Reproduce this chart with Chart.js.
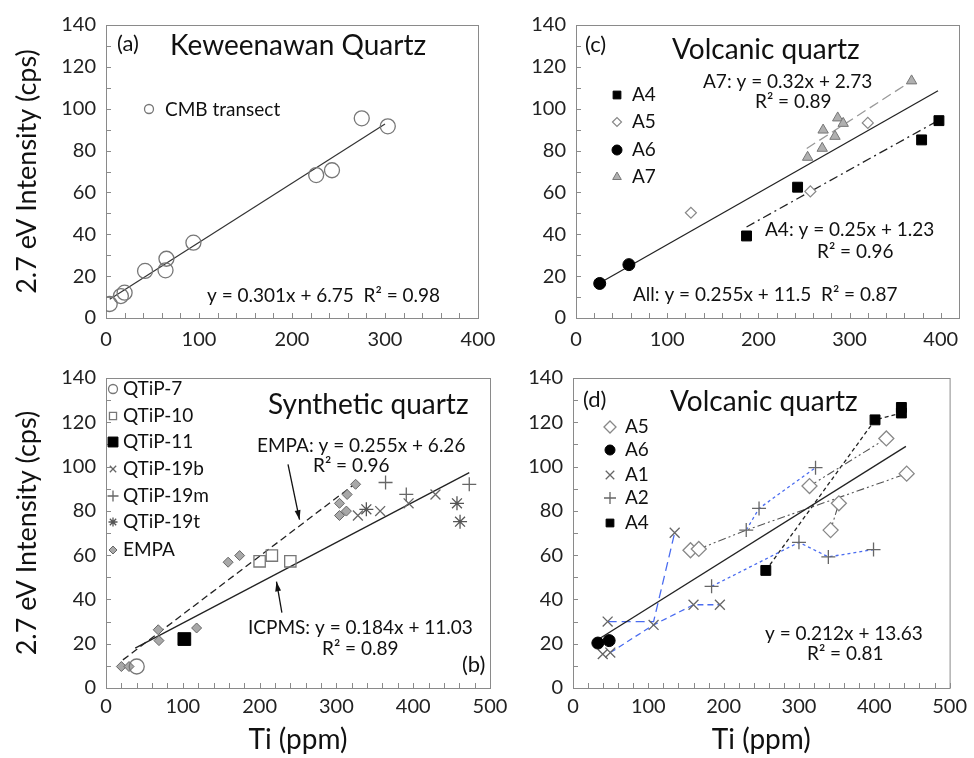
<!DOCTYPE html>
<html>
<head>
<meta charset="UTF-8">
<title>2.7 eV Intensity vs Ti</title>
<script src="https://cdn.jsdelivr.net/npm/chart.js"></script>
<style>
  body { margin: 0; background: #fff; width: 974px; height: 758px; overflow: hidden; position: relative; }
  canvas { position: absolute; left: 0; top: 0; }
</style>
</head>
<body>
<canvas id="pa" width="974" height="758"></canvas>
<canvas id="pc" width="974" height="758"></canvas>
<canvas id="pb" width="974" height="758"></canvas>
<canvas id="pd" width="974" height="758"></canvas>
<script>
// ---- (a) Keweenawan quartz
const cmbTi  = [4, 16, 20, 42, 64, 65, 94, 226, 243, 275, 303];
const cmbInt = [6.7, 10.5, 12.1, 22.5, 22.8, 28.3, 36.0, 68.3, 70.6, 95.4, 91.6];
const fitA_Ti  = [4, 300];
const fitA_Int = [9.0, 92.7];

// ---- (c) volcanic quartz
const cA4Ti = [187, 243, 379, 398],  cA4Int = [39.2, 62.5, 85.1, 94.3];
const cA5Ti = [126, 257, 320],       cA5Int = [50.3, 60.5, 93.2];
const cA6Ti = [26, 58],              cA6Int = [16.5, 25.5];
const cA7Ti = [254, 270, 271, 284, 287, 293, 368];
const cA7Int = [76.8, 81.1, 89.8, 86.8, 95.6, 93.0, 113.3];
const fitAllTi = [26, 397], fitAllInt = [16.7, 108.6];
const fitC4Ti = [187, 397],  fitC4Int = [43.5, 94.3];
const fitC7Ti = [253, 368],  fitC7Int = [81.0, 113.3];

// ---- (b) synthetic quartz
const q7Ti = [40],               q7Int = [9.7];
const q10Ti = [200, 216, 240],   q10Int = [57.2, 59.8, 57.2];
const q11Ti = [102],             q11Int = [22.1];
const q19bTi = [328, 357, 394, 429], q19bInt = [77.9, 79.9, 83.4, 87.4];
const q19mTi = [364, 391, 473],  q19mInt = [92.8, 87.4, 92.0];
const q19tTi = [339, 457, 461],  q19tInt = [80.7, 83.4, 75.1];
const empaTi  = [20, 30, 68, 69, 118, 159, 174, 304, 313, 304, 314, 325];
const empaInt = [9.7, 9.7, 26.3, 21.4, 27.1, 56.8, 59.8, 77.9, 79.9, 83.4, 87.4, 92.0];
const fitEmpaTi = [22, 326],  fitEmpaInt = [12.7, 92.7];
const fitIcpTi  = [38, 473],  fitIcpInt  = [18.0, 97.3];

// ---- (d) volcanic quartz
const dA5Ti = [156, 167, 314, 342, 353, 416, 443];
const dA5Int = [62.2, 62.8, 91.2, 71.3, 83.4, 112.7, 96.8];
const dA6Ti = [33, 48],   dA6Int = [20.3, 21.4];
const dA1Ti = [39.5, 49.5, 46, 107, 135, 160, 195];
const dA1Int = [15.3, 16.0, 30.0, 28.5, 70.1, 37.6, 37.6];
const dA2Ti = [184, 230, 247, 322, 300, 339, 399];
const dA2Int = [45.9, 71.3, 81.1, 99.5, 65.8, 59.2, 62.5];
const dA4Ti = [256, 401, 436, 436], dA4Int = [53.1, 121.1, 124.2, 126.7];
const fitDTi = [29, 442], fitDInt = [21.0, 109.1];
const dA1lineATi = [46, 107, 135],        dA1lineAInt = [30.0, 30.0, 70.1];
const dA1lineBTi = [49.5, 107, 160, 195], dA1lineBInt = [16.0, 28.5, 37.6, 37.6];
const dA2lineATi = [184, 300, 339, 399],  dA2lineAInt = [45.9, 65.8, 59.2, 62.5];
const dA2lineBTi = [230, 247, 322],       dA2lineBInt = [71.3, 81.1, 99.5];
const dA5lineATi = [167, 230, 443],       dA5lineAInt = [62.8, 71.3, 96.8];
const dA5lineBTi = [314, 416],            dA5lineBInt = [91.2, 112.7];
const dA5lineCTi = [342, 353],            dA5lineCInt = [71.3, 83.4];
const dA4lineTi = [256, 401, 436],        dA4lineInt = [53.1, 121.1, 124.2];

const fnt = 'Lato, "Open Sans", sans-serif';
const blue = '#4a6cf0';

// text, legend and arrow annotations per panel (page pixels)
const extras = {
  pa: {
    notes: [['(a)', 117, 44, 22], ['Keweenawan Quartz', 170, 46, 28], ['CMB transect', 165, 110, 19],
            ['y = 0.301x + 6.75  R\u00b2 = 0.98', 207, 296, 19]],
    keys: { x: 149, ds: [0], ys: [109], r: [4.5] }
  },
  pc: {
    notes: [['(c)', 585, 45, 22], ['Volcanic quartz', 672, 50, 28],
            ['A4', 632, 95, 19], ['A5', 632, 122, 19], ['A6', 632, 150, 19], ['A7', 632, 177, 19],
            ['A7: y = 0.32x + 2.73', 703, 82, 19], ['R\u00b2 = 0.89', 755, 102, 19],
            ['A4: y = 0.25x + 1.23', 765, 230, 19], ['R\u00b2 = 0.96', 817, 252, 19],
            ['All: y = 0.255x + 11.5  R\u00b2 = 0.87', 633, 295, 19]],
    keys: { x: 617, ds: [0, 1, 2, 3], ys: [95, 122, 150, 177], r: [5.5, 4.5, 5, 5] }
  },
  pb: {
    notes: [['Synthetic quartz', 268, 405, 28],
            ['QTiP-7', 123, 389, 19], ['QTiP-10', 123, 416, 19], ['QTiP-11', 123, 442, 19],
            ['QTiP-19b', 123, 469, 19], ['QTiP-19m', 123, 496, 19], ['QTiP-19t', 123, 522, 19], ['EMPA', 123, 550, 19],
            ['EMPA: y = 0.255x + 6.26', 257, 446, 19], ['R\u00b2 = 0.96', 313, 466, 19],
            ['ICPMS: y = 0.184x + 11.03', 248, 628, 19], ['R\u00b2 = 0.89', 322, 649, 19],
            ['(b)', 462, 665, 22]],
    keys: { x: 113, ds: [0, 1, 2, 3, 4, 5, 6], ys: [389, 416, 442, 469, 496, 522, 550], r: [4.5, 5, 7, 4.5, 5.5, 4.5, 4] },
    arrows: [[[237, 101], [252, 76]], [[229, 34], [222, 48]]]
  },
  pd: {
    notes: [['(d)', 583, 400, 22], ['Volcanic quartz', 670, 402, 28],
            ['A5', 625, 427, 19], ['A6', 625, 450, 19], ['A1', 625, 475, 19], ['A2', 625, 498, 19], ['A4', 625, 523, 19],
            ['y = 0.212x + 13.63', 765, 634, 19], ['R\u00b2 = 0.81', 807, 654, 19]],
    keys: { x: 610, ds: [0, 1, 2, 3, 4], ys: [427, 450, 475, 498, 523], r: [6, 5, 6, 6, 5.5] }
  }
};

const framePlugin = {
  id: 'frame',
  beforeDatasetsDraw(chart) {
    const { ctx, chartArea: a, scales } = chart;
    ctx.save();
    ctx.strokeStyle = '#8a8a8a';
    ctx.lineWidth = 1;
    ctx.strokeRect(a.left + 0.5, a.top + 0.5, a.right - a.left, a.bottom - a.top);
    ctx.beginPath();
    for (let v = 0; v <= 140; v += 10) {
      const y = Math.round(scales.y.getPixelForValue(v)) + 0.5;
      ctx.moveTo(a.left, y); ctx.lineTo(a.left + 5, y);
    }
    for (let v = 0; v <= scales.x.max; v += 20) {
      const x = Math.round(scales.x.getPixelForValue(v)) + 0.5;
      ctx.moveTo(x, a.bottom); ctx.lineTo(x, a.bottom - 5);
    }
    ctx.stroke();
    ctx.restore();
  },
  afterDraw(chart) {
    const ex = extras[chart.canvas.id];
    if (!ex) return;
    const ctx = chart.ctx;
    ctx.save();
    ctx.fillStyle = '#111';
    ctx.textBaseline = 'middle';
    ctx.textAlign = 'left';
    ex.notes.forEach(n => {
      ctx.font = n[3] + 'px ' + fnt;
      ctx.fillText(n[0], n[1], n[2]);
    });
    const k = ex.keys;
    k.ds.forEach((d, i) => {
      const o = chart.getDatasetMeta(d).data[0].options;
      ctx.fillStyle = o.backgroundColor;
      ctx.strokeStyle = o.borderColor;
      ctx.lineWidth = o.borderWidth;
      Chart.helpers.drawPoint(ctx, { pointStyle: o.pointStyle, rotation: 0, radius: k.r[i], borderWidth: o.borderWidth }, k.x, k.ys[i]);
    });
    (ex.arrows || []).forEach(ar => {
      const x0 = chart.scales.x.getPixelForValue(ar[0][0]), y0 = chart.scales.y.getPixelForValue(ar[0][1]);
      const x1 = chart.scales.x.getPixelForValue(ar[1][0]), y1 = chart.scales.y.getPixelForValue(ar[1][1]);
      const ang = Math.atan2(y1 - y0, x1 - x0);
      ctx.strokeStyle = '#111'; ctx.fillStyle = '#111'; ctx.lineWidth = 1.3;
      ctx.beginPath(); ctx.moveTo(x0, y0); ctx.lineTo(x1, y1); ctx.stroke();
      ctx.beginPath();
      ctx.moveTo(x1, y1);
      ctx.lineTo(x1 - 10 * Math.cos(ang - 0.3), y1 - 10 * Math.sin(ang - 0.3));
      ctx.lineTo(x1 - 10 * Math.cos(ang + 0.3), y1 - 10 * Math.sin(ang + 0.3));
      ctx.closePath(); ctx.fill();
    });
    ctx.restore();
  }
};
Chart.register(framePlugin);

function pts(xs, ys) { return xs.map((x, i) => ({ x: x, y: ys[i] })); }
function mk(xs, ys, st) {
  return Object.assign({ data: pts(xs, ys), showLine: false, order: 1, pointHoverRadius: 0 }, st);
}
function ln(xs, ys, st) {
  return Object.assign({ data: pts(xs, ys), showLine: true, pointRadius: 0, pointHoverRadius: 0, fill: false,
    borderWidth: 1.3, borderColor: '#222', order: 2 }, st);
}
const S = {
  openCircle: { pointStyle: 'circle', pointRadius: 7.5, pointBackgroundColor: 'rgba(0,0,0,0)', pointBorderColor: '#777', pointBorderWidth: 1.3 },
  blackSquare: { pointStyle: 'rect', pointRadius: 7, pointBackgroundColor: '#000', pointBorderColor: '#000', pointBorderWidth: 1 },
  openDiamond: { pointStyle: 'rectRot', pointRadius: 5.5, pointBackgroundColor: '#fff', pointBorderColor: '#888', pointBorderWidth: 1.2 },
  blackCircle: { pointStyle: 'circle', pointRadius: 6, pointBackgroundColor: '#000', pointBorderColor: '#000', pointBorderWidth: 1 },
  grayTriangle: { pointStyle: 'triangle', pointRadius: 6, pointBackgroundColor: '#b0b0b0', pointBorderColor: '#777', pointBorderWidth: 1 },
  openSquare: { pointStyle: 'rect', pointRadius: 8, pointBackgroundColor: 'rgba(0,0,0,0)', pointBorderColor: '#777', pointBorderWidth: 1.3 },
  bigSquare: { pointStyle: 'rect', pointRadius: 9, pointBackgroundColor: '#000', pointBorderColor: '#000', pointBorderWidth: 1 },
  xMark: { pointStyle: 'crossRot', pointRadius: 7, pointBorderColor: '#666', pointBorderWidth: 1.3 },
  plusMark: { pointStyle: 'cross', pointRadius: 7, pointBorderColor: '#666', pointBorderWidth: 1.3 },
  starMark: { pointStyle: 'star', pointRadius: 7, pointBorderColor: '#555', pointBorderWidth: 1.3 },
  grayDiamond: { pointStyle: 'rectRot', pointRadius: 5, pointBackgroundColor: '#a8a8a8', pointBorderColor: '#666', pointBorderWidth: 1 },
  bigOpenDiamond: { pointStyle: 'rectRot', pointRadius: 7.5, pointBackgroundColor: '#fff', pointBorderColor: '#888', pointBorderWidth: 1.3 }
};

function panel(id, pad, yw, xh, xmax, yTitle, xTitle, datasets) {
  return new Chart(document.getElementById(id), {
    type: 'scatter',
    data: { datasets: datasets },
    options: {
      responsive: false, animation: false, devicePixelRatio: 1, events: [],
      layout: { padding: pad },
      plugins: { legend: { display: false }, tooltip: { enabled: false } },
      scales: {
        x: {
          type: 'linear', min: 0, max: xmax,
          grid: { display: false, drawTicks: false }, border: { display: false },
          ticks: { stepSize: 100, includeBounds: false, maxRotation: 0, color: '#222',
                   font: { family: fnt, size: 20 }, padding: xh > 50 ? 7 : 10 },
          title: { display: !!xTitle, text: xTitle, color: '#111', font: { family: fnt, size: 28 }, padding: { top: 0, bottom: 1 } },
          afterFit: s => { s.height = xh; }
        },
        y: {
          type: 'linear', min: 0, max: 140,
          grid: { display: false, drawTicks: false }, border: { display: false },
          ticks: { stepSize: 20, color: '#222', font: { family: fnt, size: 20 }, padding: 10 },
          title: { display: !!yTitle, text: yTitle, color: '#111', font: { family: fnt, size: 27 }, padding: { top: 11, bottom: 0 } },
          afterFit: s => { s.width = yw; }
        }
      }
    }
  });
}

const yLab = '2.7 eV Intensity (cps)';
const xLab = 'Ti (ppm)';

panel('pa', { left: 0, top: 25, right: 496, bottom: 400 }, 106, 40, 400, yLab, '', [
  mk(cmbTi, cmbInt, S.openCircle),
  ln(fitA_Ti, fitA_Int, { borderColor: '#333', borderWidth: 1.2 })
]);

panel('pc', { left: 516, top: 25, right: 15, bottom: 400 }, 60, 40, 420, '', '', [
  mk(cA4Ti, cA4Int, S.blackSquare),
  mk(cA5Ti, cA5Int, S.openDiamond),
  mk(cA6Ti, cA6Int, S.blackCircle),
  mk(cA7Ti, cA7Int, S.grayTriangle),
  ln(fitAllTi, fitAllInt, { borderColor: '#222' }),
  ln(fitC4Ti, fitC4Int, { borderColor: '#222', borderDash: [9, 4, 2, 4] }),
  ln(fitC7Ti, fitC7Int, { borderColor: '#999', borderDash: [10, 5] })
]);

panel('pb', { left: 0, top: 378, right: 484, bottom: 0 }, 106, 70, 500, yLab, xLab, [
  mk(q7Ti, q7Int, S.openCircle),
  mk(q10Ti, q10Int, S.openSquare),
  mk(q11Ti, q11Int, S.bigSquare),
  mk(q19bTi, q19bInt, S.xMark),
  mk(q19mTi, q19mInt, S.plusMark),
  mk(q19tTi, q19tInt, S.starMark),
  mk(empaTi, empaInt, S.grayDiamond),
  ln(fitEmpaTi, fitEmpaInt, { borderColor: '#222', borderDash: [7, 4] }),
  ln(fitIcpTi, fitIcpInt, { borderColor: '#222' })
]);

panel('pd', { left: 513, top: 378, right: 17, bottom: 0 }, 60, 70, 500, '', xLab, [
  mk(dA5Ti, dA5Int, S.bigOpenDiamond),
  mk(dA6Ti, dA6Int, S.blackCircle),
  mk(dA1Ti, dA1Int, S.xMark),
  mk(dA2Ti, dA2Int, S.plusMark),
  mk(dA4Ti, dA4Int, S.blackSquare),
  ln(fitDTi, fitDInt, { borderColor: '#222' }),
  ln(dA1lineATi, dA1lineAInt, { borderColor: blue, borderDash: [9, 5] }),
  ln(dA1lineBTi, dA1lineBInt, { borderColor: blue, borderDash: [6, 4] }),
  ln(dA2lineATi, dA2lineAInt, { borderColor: blue, borderDash: [3, 3] }),
  ln(dA2lineBTi, dA2lineBInt, { borderColor: blue, borderDash: [3, 3] }),
  ln(dA5lineATi, dA5lineAInt, { borderColor: '#555', borderWidth: 1.1, borderDash: [8, 3, 2, 3, 2, 3] }),
  ln(dA5lineBTi, dA5lineBInt, { borderColor: '#555', borderWidth: 1.1, borderDash: [8, 3, 2, 3, 2, 3] }),
  ln(dA5lineCTi, dA5lineCInt, { borderColor: '#555', borderWidth: 1.1, borderDash: [8, 3, 2, 3] }),
  ln(dA4lineTi, dA4lineInt, { borderColor: '#222', borderDash: [4, 3] })
]);
</script>
</body>
</html>
